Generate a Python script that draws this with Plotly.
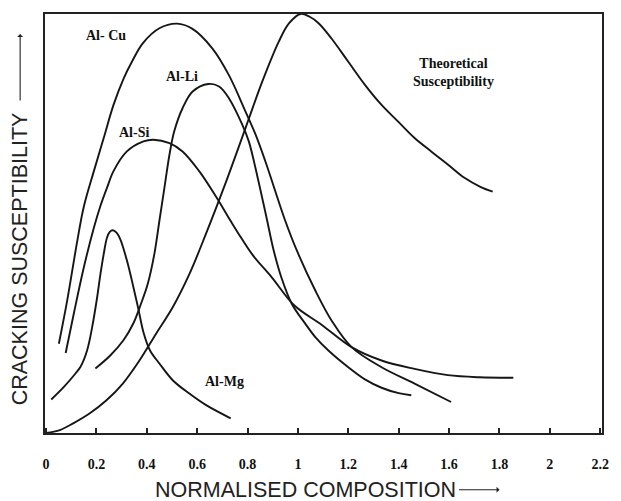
import plotly.graph_objects as go

# Normalised composition (x) vs. relative cracking susceptibility (y) for each alloy system
theo_x = [0, 0.055, 0.108, 0.174, 0.24, 0.305, 0.371, 0.437, 0.503, 0.569, 0.634, 0.713, 0.773,
          0.805, 0.858, 0.924, 0.965, 1.01, 1.045, 1.082, 1.134, 1.2, 1.266, 1.332, 1.398, 1.463,
          1.529, 1.595, 1.661, 1.726, 1.773]
theo_y = [0, 0.007, 0.023, 0.047, 0.078, 0.118, 0.173, 0.237, 0.30, 0.379, 0.474, 0.597, 0.696,
          0.75, 0.838, 0.934, 0.978, 1.0, 0.994, 0.978, 0.941, 0.886, 0.831, 0.783, 0.743, 0.704,
          0.672, 0.641, 0.609, 0.587, 0.576]

alcu_x = [0.051, 0.084, 0.124, 0.15, 0.19, 0.229, 0.268, 0.308, 0.341, 0.384, 0.45, 0.52, 0.58,
          0.66, 0.726, 0.792, 0.832, 0.871, 0.95, 0.996, 1.069, 1.134, 1.213, 1.332, 1.463, 1.608]
alcu_y = [0.213, 0.316, 0.458, 0.54, 0.625, 0.704, 0.783, 0.846, 0.886, 0.93, 0.966, 0.977, 0.965,
          0.918, 0.854, 0.767, 0.712, 0.648, 0.506, 0.435, 0.34, 0.268, 0.205, 0.157, 0.118, 0.074]

alli_x = [0.196, 0.255, 0.308, 0.347, 0.375, 0.404, 0.43, 0.45, 0.47, 0.49, 0.509, 0.542, 0.582,
          0.644, 0.687, 0.726, 0.779, 0.805, 0.84, 0.875, 0.904, 0.935, 0.976, 1.029, 1.069, 1.121,
          1.2, 1.266, 1.332, 1.4, 1.45]
alli_y = [0.154, 0.185, 0.222, 0.262, 0.305, 0.356, 0.427, 0.506, 0.585, 0.664, 0.72, 0.775, 0.815,
          0.833, 0.827, 0.799, 0.736, 0.696, 0.61, 0.515, 0.435, 0.37, 0.308, 0.261, 0.229, 0.197,
          0.157, 0.128, 0.108, 0.095, 0.09]

alsi_x = [0.078, 0.11, 0.15, 0.19, 0.215, 0.242, 0.268, 0.321, 0.387, 0.426, 0.49, 0.542, 0.608,
          0.674, 0.733, 0.766, 0.82, 0.897, 0.985, 1.095, 1.213, 1.332, 1.463, 1.595, 1.72, 1.855]
alsi_y = [0.191, 0.284, 0.395, 0.49, 0.54, 0.585, 0.625, 0.672, 0.696, 0.70, 0.692, 0.672, 0.625,
          0.565, 0.506, 0.474, 0.425, 0.371, 0.305, 0.258, 0.205, 0.173, 0.153, 0.138, 0.133, 0.132]

almg_x = [0.021, 0.071, 0.117, 0.137, 0.163, 0.183, 0.203, 0.216, 0.229, 0.242, 0.253, 0.265,
          0.28, 0.295, 0.321, 0.347, 0.367, 0.387, 0.413, 0.45, 0.503, 0.569, 0.634, 0.733]
almg_y = [0.08, 0.11, 0.142, 0.158, 0.197, 0.252, 0.324, 0.379, 0.427, 0.466, 0.48, 0.484,
          0.478, 0.462, 0.412, 0.348, 0.295, 0.24, 0.197, 0.166, 0.126, 0.094, 0.067, 0.035]

# Curve labels and where they sit (data coordinates)
label_text = ["Al- Cu", "Al-Li", "Al-Si", "Al-Mg", "Theoretical<br>Susceptibility"]
label_x = [0.24, 0.539, 0.351, 0.707, 1.619]
label_y = [0.948, 0.85, 0.717, 0.124, 0.86]

tick_vals = [0, 0.2, 0.4, 0.6, 0.8, 1.0, 1.2, 1.4, 1.6, 1.8, 2.0, 2.2]
tick_text = ["0", "0.2", "0.4", "0.6", "0.8", "1", "1.2", "1.4", "1.6", "1.8", "2", "2.2"]

LINE = dict(color="#161616", width=1.9, shape="spline", smoothing=1.0)

fig = go.Figure()
for xs, ys in [(theo_x, theo_y), (alcu_x, alcu_y), (alli_x, alli_y),
               (alsi_x, alsi_y), (almg_x, almg_y)]:
    fig.add_trace(go.Scatter(x=xs, y=ys, mode="lines", line=LINE,
                             hoverinfo="skip", showlegend=False))

serif = "Liberation Serif, Times New Roman, serif"
sans = "Liberation Sans, Arial, sans-serif"

for t, x, y in zip(label_text, label_x, label_y):
    fig.add_annotation(x=x, y=y, text=t, showarrow=False,
                       font=dict(family=serif, size=14, color="#111", weight="bold"),
                       xanchor="center", yanchor="middle")

# Axis titles, each followed by a long thin arrow
fig.add_annotation(x=0.467, y=0, xref="paper", yref="paper", yshift=-57,
                   text="NORMALISED COMPOSITION", showarrow=False,
                   font=dict(family=sans, size=21.5, color="#222"),
                   xanchor="center", yanchor="middle")
fig.add_annotation(x=0.816, y=-57 / 421, xref="paper", yref="paper",
                   ax=-42, ay=0, axref="pixel", ayref="pixel", text="",
                   showarrow=True, arrowhead=1, arrowsize=0.9, arrowwidth=1.1,
                   arrowcolor="#222")
fig.add_annotation(x=0, y=0.4145, xref="paper", yref="paper", xshift=-25,
                   text="CRACKING SUSCEPTIBILITY", showarrow=False, textangle=-90,
                   font=dict(family=sans, size=21.5, color="#222"),
                   xanchor="center", yanchor="middle")
fig.add_annotation(x=-25 / 560, y=0.952, xref="paper", yref="paper",
                   ax=0, ay=68, axref="pixel", ayref="pixel", text="",
                   showarrow=True, arrowhead=1, arrowsize=0.9, arrowwidth=1.1,
                   arrowcolor="#222")

fig.update_layout(
    width=621, height=501,
    margin=dict(l=45, r=16, t=12, b=68),
    paper_bgcolor="white", plot_bgcolor="white",
    xaxis=dict(range=[-0.004, 2.207], tickvals=tick_vals, ticktext=tick_text,
               ticks="inside", ticklen=5, tickwidth=1.5, tickcolor="#222",
               showline=True, linecolor="#222", linewidth=1.6, mirror=True,
               showgrid=False, zeroline=False, ticklabelstandoff=17,
               tickfont=dict(family=serif, size=14, color="#111", weight="bold")),
    yaxis=dict(range=[0, 1.0], showticklabels=False, ticks="",
               showline=True, linecolor="#222", linewidth=1.6, mirror=True,
               showgrid=False, zeroline=False),
)

fig.write_html("out.html")
